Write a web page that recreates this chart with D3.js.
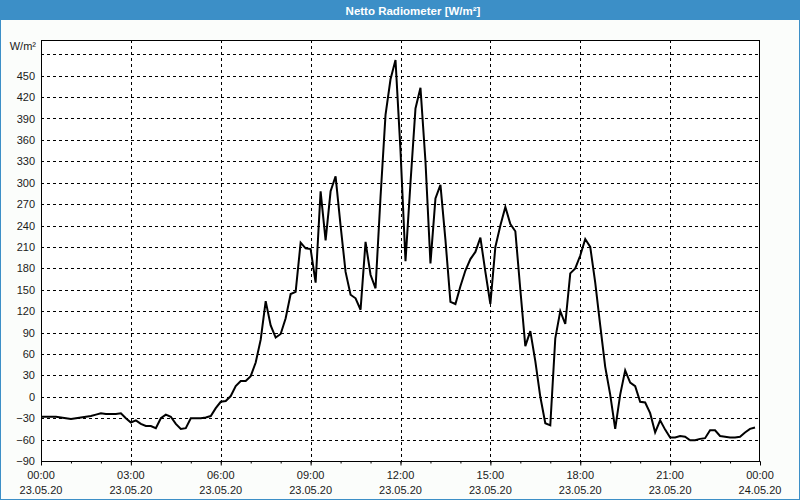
<!DOCTYPE html>
<html>
<head>
<meta charset="utf-8">
<script src="https://cdn.jsdelivr.net/npm/d3@7"></script>
<style>
  html, body { margin: 0; padding: 0; background: #ffffff; }
  svg { display: block; }
  text { font-family: Tahoma, "Liberation Sans", Arial, sans-serif; }
</style>
</head>
<body>
<svg id="chart" width="800" height="500"></svg>
<script>
// ---- data ----
const title = "Netto Radiometer [W/m²]";
const unitLabel = "W/m²";
const startTime = "2020-05-23T00:00:00";
const stepMinutes = 10;
const values = [
  -28, -28, -28, -28, -29, -30, -31, -30, -29, -28,
  -27, -25, -23, -24, -24, -24, -23, -30, -36, -33,
  -38, -41, -41, -44, -30, -25, -28, -38, -45, -44,
  -30, -30, -30, -29, -27, -16, -7, -6, 1, 15,
  22, 22, 29, 48, 80, 134, 100, 83, 88, 110,
  144, 147, 216, 208, 207, 160, 288, 219, 288, 309,
  240, 175, 143, 138, 122, 217, 171, 152, 280, 395,
  445, 472, 345, 190, 300, 404, 433, 330, 187, 278,
  297, 220, 133, 130, 155, 177, 193, 203, 223, 175,
  130, 210, 240, 266, 242, 232, 150, 71, 92, 50,
  0, -37, -40, 82, 120, 102, 173, 180, 198, 221,
  210, 160, 100, 42, 3, -45, 3, 37, 20, 15,
  -7, -8, -23, -50, -33, -46, -57, -57, -55, -56,
  -61, -61, -59, -58, -47, -47, -55, -56, -57, -57,
  -56, -50, -45, -43
];
const yTicks = [-90, -60, -30, 0, 30, 60, 90, 120, 150, 180, 210, 240, 270, 300, 330, 360, 390, 420, 450];
const yGridExtra = [480];
const xTickLabels = [
  ["00:00", "23.05.20"], ["03:00", "23.05.20"], ["06:00", "23.05.20"],
  ["09:00", "23.05.20"], ["12:00", "23.05.20"], ["15:00", "23.05.20"],
  ["18:00", "23.05.20"], ["21:00", "23.05.20"], ["00:00", "24.05.20"]
];
const yDomain = [-90, 500];
const xStart = "2020-05-23T00:00:00";
const xEnd = "2020-05-24T00:00:00";

// ---- drawing ----
const W = 800, H = 500;
const svg = d3.select("#chart");
const parse = d3.isoParse;
const t0 = parse(startTime);
const points = values.map((v, i) => ({ t: d3.timeMinute.offset(t0, i * stepMinutes), v }));

const plot = { left: 41, right: 760, top: 40, bottom: 461 };
const x = d3.scaleTime().domain([parse(xStart), parse(xEnd)]).range([plot.left, plot.right]);
const y = d3.scaleLinear().domain(yDomain).range([plot.bottom, plot.top]);

// window background and border
svg.append("rect").attr("x", 0).attr("y", 0).attr("width", W).attr("height", H).attr("fill", "#fbfdfb");
svg.append("rect").attr("x", 0.5).attr("y", 0.5).attr("width", W - 1).attr("height", H - 1)
  .attr("fill", "none").attr("stroke", "#3c8fc7").attr("stroke-width", 1);
// title bar
svg.append("rect").attr("x", 0).attr("y", 0).attr("width", W).attr("height", 20).attr("fill", "#3c8fc7");
svg.append("text").attr("x", 413).attr("y", 14.5).attr("text-anchor", "middle")
  .attr("fill", "#ffffff").attr("font-weight", "bold").attr("font-size", "11.5px").text(title);

// plot background
svg.append("rect").attr("x", plot.left).attr("y", plot.top)
  .attr("width", plot.right - plot.left).attr("height", plot.bottom - plot.top).attr("fill", "#ffffff");

// grid
const grid = svg.append("g").attr("stroke", "#000").attr("stroke-width", 1).attr("stroke-dasharray", "3,3");
yTicks.concat(yGridExtra).filter(v => v > yDomain[0]).forEach(v => {
  const yy = Math.round(y(v)) + 0.5;
  grid.append("line").attr("x1", plot.left).attr("x2", plot.right).attr("y1", yy).attr("y2", yy);
});
const majorTimes = d3.timeHour.every(3).range(parse(xStart), d3.timeMinute.offset(parse(xEnd), 1));
majorTimes.slice(1, -1).forEach(t => {
  const xx = Math.round(x(t)) + 0.5;
  grid.append("line").attr("x1", xx).attr("x2", xx).attr("y1", plot.top).attr("y2", plot.bottom);
});

// frame
svg.append("rect").attr("x", plot.left + 0.5).attr("y", plot.top + 0.5)
  .attr("width", plot.right - plot.left - 1).attr("height", plot.bottom - plot.top)
  .attr("fill", "none").attr("stroke", "#000").attr("stroke-width", 1);

// x axis ticks
const xAxisMinor = d3.axisBottom(x).ticks(d3.timeHour.every(1)).tickSize(2).tickFormat("");
const gMinor = svg.append("g").attr("transform", `translate(0,${plot.bottom + 0.5})`).call(xAxisMinor);
gMinor.select(".domain").remove();
gMinor.selectAll("line").attr("stroke", "#000");

const xAxisMajor = d3.axisBottom(x).tickValues(majorTimes).tickSize(4).tickFormat("");
const gMajor = svg.append("g").attr("transform", `translate(0,${plot.bottom + 0.5})`).call(xAxisMajor);
gMajor.select(".domain").remove();
gMajor.selectAll("line").attr("stroke", "#000");

// x labels
const xl = svg.append("g").attr("font-size", "11px").attr("fill", "#1a1a1a").attr("text-anchor", "middle");
majorTimes.forEach((t, i) => {
  const lab = xTickLabels[i];
  xl.append("text").attr("x", x(t)).attr("y", 479).text(lab[0]);
  xl.append("text").attr("x", x(t)).attr("y", 493.5).text(lab[1]);
});

// y labels
const yAxis = d3.axisLeft(y).tickValues(yTicks).tickSize(0).tickPadding(6);
const gy = svg.append("g").attr("transform", `translate(${plot.left},0)`).call(yAxis);
gy.select(".domain").remove();
gy.selectAll("text").attr("font-size", "11px").attr("fill", "#1a1a1a")
  .attr("font-family", 'Tahoma, "Liberation Sans", Arial, sans-serif');

svg.append("text").attr("x", 36).attr("y", 50).attr("text-anchor", "end")
  .attr("font-size", "11px").attr("fill", "#1a1a1a").text(unitLabel);

// line
const line = d3.line().x(d => x(d.t)).y(d => y(d.v));
svg.append("path").datum(points).attr("d", line)
  .attr("fill", "none").attr("stroke", "#000").attr("stroke-width", 2).attr("stroke-linejoin", "miter");
</script>
</body>
</html>
